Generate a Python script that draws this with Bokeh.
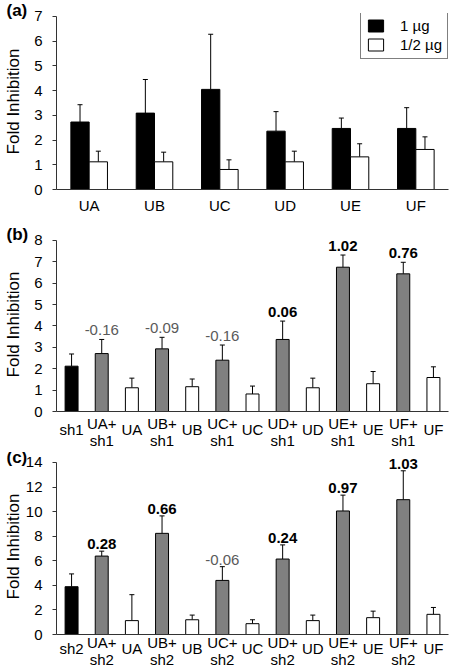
from bokeh.plotting import figure
from bokeh.models import (ColumnDataSource, FactorRange, Range1d, Whisker, TeeHead,
                          LabelSet, Legend, LegendItem, FixedTicker, Title,
                          CategoricalAxis, CustomJSTickFormatter)
from bokeh.transform import dodge
from bokeh.layouts import column
from bokeh.embed import file_html
from bokeh.resources import INLINE
from bokeh.core.properties import value

FONT = "Liberation Sans"

# ---------------- Panel (a) ----------------
cats_a = ["UA", "UB", "UC", "UD", "UE", "UF"]
a_1ug = [2.73, 3.09, 4.05, 2.36, 2.47, 2.47]
a_1ug_err = [0.70, 1.36, 2.23, 0.79, 0.42, 0.84]
a_half = [1.12, 1.12, 0.81, 1.12, 1.32, 1.62]
a_half_err = [0.43, 0.39, 0.39, 0.43, 0.53, 0.51]
a_ticks = [0, 1, 2, 3, 4, 5, 6, 7]
legend_labels = ["1 µg", "1/2 µg"]

# ---------------- Panel (b) ----------------
cats_b = ["sh1", "UA+sh1", "UA", "UB+sh1", "UB", "UC+sh1", "UC",
          "UD+sh1", "UD", "UE+sh1", "UE", "UF+sh1", "UF"]
labels_b = ["sh1", "UA+\nsh1", "UA", "UB+\nsh1", "UB", "UC+\nsh1", "UC",
            "UD+\nsh1", "UD", "UE+\nsh1", "UE", "UF+\nsh1", "UF"]
b_vals = [2.12, 2.71, 1.11, 2.93, 1.16, 2.40, 0.82, 3.37, 1.11, 6.75, 1.30, 6.44, 1.59]
b_err = [0.57, 0.66, 0.45, 0.54, 0.36, 0.71, 0.37, 0.86, 0.45, 0.57, 0.57, 0.54, 0.50]
b_delta_cats = ["UA+sh1", "UB+sh1", "UC+sh1", "UD+sh1", "UE+sh1", "UF+sh1"]
b_delta = ["-0.16", "-0.09", "-0.16", "0.06", "1.02", "0.76"]
b_delta_bold = [False, False, False, True, True, True]
b_ticks = [0, 1, 2, 3, 4, 5, 6, 7, 8]

# ---------------- Panel (c) ----------------
cats_c = ["sh2", "UA+sh2", "UA", "UB+sh2", "UB", "UC+sh2", "UC",
          "UD+sh2", "UD", "UE+sh2", "UE", "UF+sh2", "UF"]
labels_c = ["sh2", "UA+\nsh2", "UA", "UB+\nsh2", "UB", "UC+\nsh2", "UC",
            "UD+\nsh2", "UD", "UE+\nsh2", "UE", "UF+\nsh2", "UF"]
c_vals = [3.89, 6.38, 1.13, 8.23, 1.20, 4.40, 0.88, 6.14, 1.13, 10.05, 1.37, 10.97, 1.64]
c_err = [1.04, 0.40, 2.11, 1.42, 0.38, 1.12, 0.32, 1.15, 0.45, 1.29, 0.53, 2.35, 0.56]
c_delta_cats = ["UA+sh2", "UB+sh2", "UC+sh2", "UD+sh2", "UE+sh2", "UF+sh2"]
c_delta = ["0.28", "0.66", "-0.06", "0.24", "0.97", "1.03"]
c_delta_bold = [True, True, False, True, True, True]
c_ticks = [0, 2, 4, 6, 8, 10, 12, 14]

AXIS_COLOR = "#333333"
GRAY = "#808080"


def style_cat_axis(ax, standoff, line=True):
    ax.major_tick_out = 0
    ax.major_tick_in = 0
    ax.axis_line_color = AXIS_COLOR if line else None
    ax.major_label_text_font = FONT
    ax.major_label_text_font_size = "15px"
    ax.major_label_text_color = "black"
    ax.major_label_text_line_height = 1.05
    ax.major_label_standoff = standoff


def make_fig(cats, ymax, yend, ticks, height, top, bottom, label_standoff,
             letter, letter_standoff, cat_standoff):
    p = figure(x_range=FactorRange(factors=cats, range_padding=0),
               y_range=Range1d(0, yend), width=450, height=height,
               min_border_left=52, min_border_right=2,
               min_border_top=top, min_border_bottom=bottom,
               toolbar_location=None, output_backend="svg", title=None)
    p.outline_line_color = None
    p.grid.visible = False
    p.background_fill_color = "white"
    p.border_fill_color = "white"

    yax = p.yaxis[0]
    yax.ticker = FixedTicker(ticks=ticks)
    yax.bounds = (0, ymax)
    yax.axis_label = "Fold Inhibition"
    yax.axis_label_text_font = FONT
    yax.axis_label_text_font_style = "normal"
    yax.axis_label_text_font_size = "17px"
    yax.axis_label_text_color = "black"
    yax.axis_label_standoff = label_standoff
    yax.major_label_text_font = FONT
    yax.major_label_text_font_size = "15px"
    yax.major_label_text_color = "black"
    yax.major_label_standoff = 10
    yax.major_tick_out = 4
    yax.major_tick_in = 0
    yax.minor_tick_out = 0
    yax.minor_tick_in = 0
    yax.axis_line_color = AXIS_COLOR
    yax.major_tick_line_color = AXIS_COLOR

    style_cat_axis(p.below[0], cat_standoff)

    p.add_layout(Title(text=letter, align="left", offset=-50, standoff=letter_standoff,
                       text_font=FONT, text_font_style="bold", text_font_size="17px",
                       text_color="black"), "above")
    return p


def add_errors(p, src, base):
    p.add_layout(Whisker(source=src, base=base, lower="v", upper="top",
                         dimension="height", line_color="black", line_width=1,
                         lower_head=None,
                         upper_head=TeeHead(size=5, line_color="black", line_width=1)))


# ---------- figure (a) ----------
pa = make_fig(cats_a, 7, 7.12, a_ticks, 220, 13, 31, 8, "(a)", -12, 7)
src1 = ColumnDataSource(dict(x=cats_a, v=a_1ug,
                             top=[v + e for v, e in zip(a_1ug, a_1ug_err)]))
src2 = ColumnDataSource(dict(x=cats_a, v=a_half,
                             top=[v + e for v, e in zip(a_half, a_half_err)]))
r1 = pa.vbar(x=dodge("x", -0.14, range=pa.x_range), top="v", width=0.28, source=src1,
             fill_color="black", line_color="black", line_width=1)
r2 = pa.vbar(x=dodge("x", 0.14, range=pa.x_range), top="v", width=0.28, source=src2,
             fill_color="white", line_color="black", line_width=1)
add_errors(pa, src1, dodge("x", -0.14, range=pa.x_range))
add_errors(pa, src2, dodge("x", 0.14, range=pa.x_range))
leg = Legend(items=[LegendItem(label=legend_labels[0], renderers=[r1]),
                    LegendItem(label=legend_labels[1], renderers=[r2])],
             location=(304, 130), orientation="vertical",
             padding=5, spacing=2, margin=0,
             glyph_width=19, glyph_height=15, label_height=15, label_standoff=15,
             label_text_font=FONT, label_text_font_size="15px", label_text_color="black",
             border_line_color="black", border_line_width=1,
             background_fill_color="white", background_fill_alpha=1)
pa.add_layout(leg)


def build_panel(p, cats, labels, vals, errs, dcats, dtexts, dbold, second_standoff,
                note_offset):
    colors = []
    for i, c in enumerate(cats):
        if i == 0:
            colors.append("black")
        elif "+" in c:
            colors.append(GRAY)
        else:
            colors.append("white")
    tops_list = [v + e for v, e in zip(vals, errs)]
    src = ColumnDataSource(dict(x=cats, v=vals, top=tops_list, color=colors))
    p.vbar(x="x", top="v", width=0.43, source=src, fill_color="color",
           line_color="black", line_width=1)
    add_errors(p, src, "x")

    tops = dict(zip(cats, tops_list))
    for want_bold, style, color in ((True, "bold", "black"), (False, "normal", "#5a5a5a")):
        s = ColumnDataSource(dict(
            x=[c for c, b in zip(dcats, dbold) if b == want_bold],
            y=[tops[c] for c, b in zip(dcats, dbold) if b == want_bold],
            t=[t for t, b in zip(dtexts, dbold) if b == want_bold]))
        p.add_layout(LabelSet(x="x", y="y", text="t", source=s, y_offset=note_offset,
                              text_align="center", text_baseline="alphabetic",
                              text_font=value(FONT), text_font_style=style,
                              text_font_size="15px", text_color=color))

    # one-line labels on the first category axis, two-line labels on a second one
    # pulled up so that one-line labels sit between the two lines
    single_code = ("const i = cats.indexOf(tick); if (i < 0) { return String(tick); }"
                   "const l = labs[i]; return l.indexOf('\\n') >= 0 ? '' : l;")
    double_code = ("const i = cats.indexOf(tick); if (i < 0) { return ''; }"
                   "const l = labs[i]; return l.indexOf('\\n') >= 0 ? l : '';")
    p.below[0].formatter = CustomJSTickFormatter(args=dict(cats=cats, labs=labels),
                                                 code=single_code)
    ax2 = CategoricalAxis(formatter=CustomJSTickFormatter(args=dict(cats=cats, labs=labels),
                                                          code=double_code))
    style_cat_axis(ax2, second_standoff, line=False)
    p.add_layout(ax2, "below")


pb = make_fig(cats_b, 8, 8.14, b_ticks, 232, 17, 40, 8, "(b)", -12, 9)
build_panel(pb, cats_b, labels_b, b_vals, b_err, b_delta_cats, b_delta, b_delta_bold,
            -26, 4)

pc = make_fig(cats_c, 14, 14.32, c_ticks, 219, 6, 36, 0, "(c)", -17, 5)
build_panel(pc, cats_c, labels_c, c_vals, c_err, c_delta_cats, c_delta, c_delta_bold,
            -26, 2)

layout = column(pa, pb, pc, spacing=0)
open("out.html", "w").write(file_html(layout, INLINE))
